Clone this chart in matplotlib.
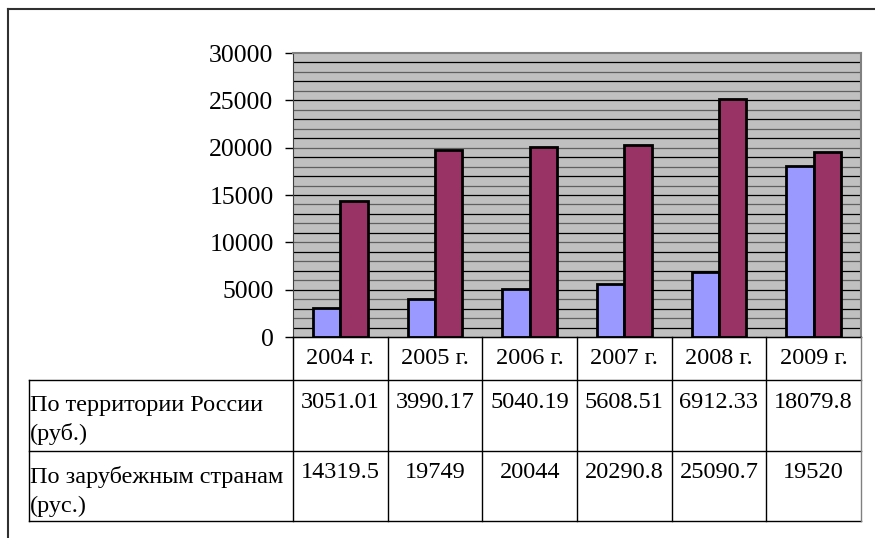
import matplotlib
matplotlib.use('Agg')
import matplotlib.pyplot as plt
import numpy as np

years = ["2004 г.", "2005 г.", "2006 г.", "2007 г.", "2008 г.", "2009 г."]
russia = [3051.01, 3990.17, 5040.19, 5608.51, 6912.33, 18079.8]
abroad = [14319.5, 19749, 20044, 20290.8, 25090.7, 19520]
row_labels = ["По территории России\n(руб.)", "По зарубежным странам\n(рус.)"]
yticks = [0, 5000, 10000, 15000, 20000, 25000, 30000]

plt.rcParams['font.family'] = ['Liberation Serif', 'DejaVu Serif']

W, H = 875, 538
fig = plt.figure(figsize=(W / 100, H / 100), dpi=100)

# pixel layout
px_l, px_r, px_t, px_b = 293, 861, 53, 337
ax = fig.add_axes([px_l / W, 1 - px_b / H, (px_r - px_l) / W, (px_b - px_t) / H])
ax.set_facecolor('#C0C0C0')

x = np.arange(len(years))
bw = 0.29
ax.bar(x - bw / 2, russia, bw, color='#9999FF', edgecolor='black', linewidth=2, zorder=3)
ax.bar(x + bw / 2, abroad, bw, color='#993366', edgecolor='black', linewidth=2, zorder=3)

# gridlines every 1000, alternating dark
for k, v in enumerate(range(1000, 30000, 1000)):
    ax.axhline(v, color='black' if k % 2 == 0 else '#606060', linewidth=0.9, zorder=1)

ax.set_xlim(-0.5, len(years) - 0.5)
ax.set_ylim(0, 30000)
ax.set_yticks(yticks)
ax.set_yticklabels([str(t) for t in yticks], fontsize=18.5)
ax.tick_params(axis='y', length=6, width=1, pad=8)
ax.set_xticks([])
for s in ['top', 'right']:
    ax.spines[s].set_color('#808080')
    ax.spines[s].set_linewidth(1.5)
ax.spines['left'].set_color('#404040')
ax.spines['bottom'].set_color('black')

# overlay for table and frame, in pixel coords
ov = fig.add_axes([0, 0, 1, 1])
ov.set_xlim(0, W)
ov.set_ylim(H, 0)
ov.axis('off')

lc = 'black'
# outer frame
ov.plot([8, W], [9, 9], color='#303030', lw=1.5)
ov.plot([8, 8], [9, H], color='#303030', lw=1.5)

col_w = (px_r - px_l) / len(years)
row_y = [px_b, 380, 451, 521]
tbl_left = 29
# horizontal lines
ov.plot([px_l, px_r], [row_y[0], row_y[0]], color=lc, lw=1)
for yy in row_y[1:]:
    ov.plot([tbl_left, px_r], [yy, yy], color=lc, lw=1)
# vertical lines
for i in range(len(years) + 1):
    xx = px_l + i * col_w
    ov.plot([xx, xx], [row_y[0], row_y[3]], color='#808080' if i == len(years) else lc, lw=1)
ov.plot([tbl_left, tbl_left], [row_y[1], row_y[3]], color=lc, lw=1)

fs = 17.5
for i, yr in enumerate(years):
    cx = px_l + (i + 0.5) * col_w
    ov.text(cx, 358, yr, ha='center', va='center', fontsize=fs)
    ov.text(cx, 402, f"{russia[i]:g}", ha='center', va='center', fontsize=fs)
    ov.text(cx, 473, f"{abroad[i]:g}", ha='center', va='center', fontsize=fs)

label_y = [405, 477]
for j, lab in enumerate(row_labels):
    ov.text(30, label_y[j], lab.split('\n')[0], ha='left', va='center', fontsize=fs)
    ov.text(30, label_y[j] + 29, lab.split('\n')[1], ha='left', va='center', fontsize=fs)

fig.savefig('out.png', dpi=100)
